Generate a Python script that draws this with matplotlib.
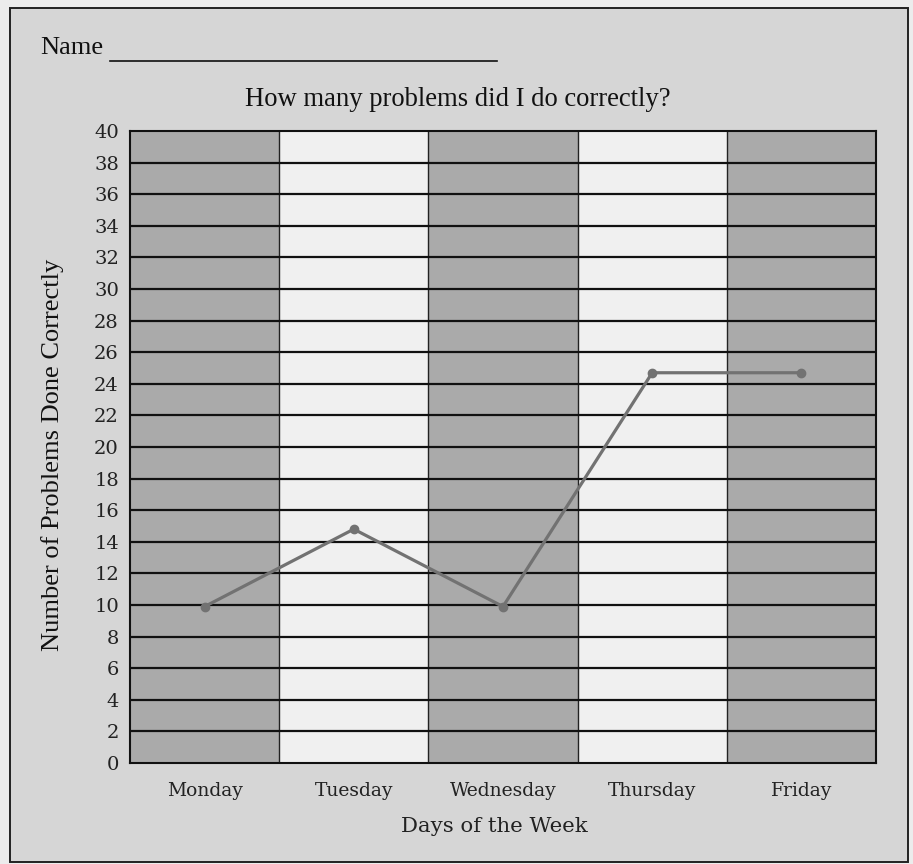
import numpy as np
import matplotlib
matplotlib.use('Agg')
import matplotlib.pyplot as plt
from matplotlib.patches import Rectangle

days    = ['Monday', 'Tuesday', 'Wednesday', 'Thursday', 'Friday']
correct = [9.9, 14.8, 9.9, 24.7, 24.7]
yticks  = list(range(0, 41, 2))

W, H = 913, 864
fig = plt.figure(figsize=(W/100, H/100), dpi=100)
fig.patch.set_facecolor('#ececec')

# worksheet frame (drawn below the axes)
frame = Rectangle((10/W, 1-862/H), 898/W, 854/H, transform=fig.transFigure,
                  facecolor='#d6d6d6', edgecolor='#222222', lw=1.4, zorder=-5)
fig.add_artist(frame)

ax = fig.add_axes([130/W, 1-763/H, 746/W, 632/H])
ax.set_zorder(2)
x = np.arange(len(days))
for i in x:
    ax.axvspan(i-0.5, i+0.5, color='#aaaaaa' if i % 2 == 0 else '#f0f0f0', zorder=0, lw=0)
    if i > 0:
        ax.axvline(i-0.5, color='#222222', lw=1.0, zorder=1)
for y in yticks[1:-1]:
    ax.axhline(y, color='#111111', lw=1.6, zorder=1)

ax.plot(x, correct, color='#727272', lw=2.3, marker='o', ms=6, zorder=3)

ax.set_xlim(-0.5, len(days)-0.5)
ax.set_ylim(0, 40)
ax.set_yticks(yticks)
ax.set_xticks(x)
ax.set_xticklabels(days, family='DejaVu Serif', fontsize=13.5, color='#222222')
ax.set_yticklabels([str(v) for v in yticks], family='DejaVu Serif', fontsize=14, color='#222222')
ax.tick_params(axis='both', length=0)
ax.tick_params(axis='x', pad=14)
ax.tick_params(axis='y', pad=8)
for s in ax.spines.values():
    s.set_color('#111111')
    s.set_linewidth(1.5)

ax.set_ylabel('Number of Problems Done Correctly', family='Liberation Serif',
              fontsize=19, color='#111111')
ax.yaxis.set_label_coords(-0.088, 0.488)
ax.set_xlabel('Days of the Week', family='DejaVu Serif', fontsize=15.3, color='#222222')
ax.xaxis.set_label_coords(0.488, -0.085)

fig.text(40/W, 1-48/H, 'Name', family='Liberation Serif', fontsize=19, color='#111111', va='center')
fig.add_artist(plt.Line2D([110/W, 497/W], [1-61/H, 1-61/H], color='#111111', lw=1.2))
fig.text(458/W, 1-100/H, 'How many problems did I do correctly?', family='Liberation Serif',
         fontsize=19.2, color='#111111', ha='center', va='center')

fig.savefig('out.png', dpi=100, facecolor=fig.get_facecolor())
